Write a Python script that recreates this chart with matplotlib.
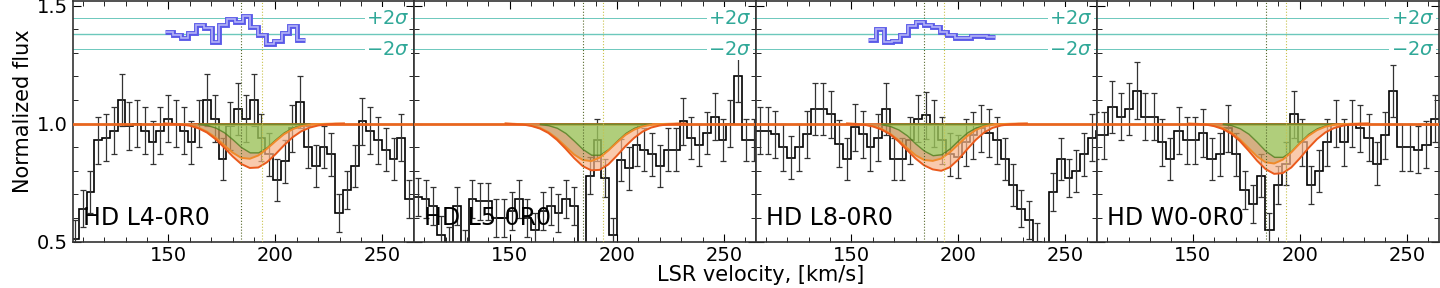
import numpy as np
import matplotlib.pyplot as plt
from matplotlib.ticker import MultipleLocator

# ---- data ----
labels = ['HD L4-0R0', 'HD L5-0R0', 'HD L8-0R0', 'HD W0-0R0']
bin_width = [3.63, 3.65, 3.70, 3.86]
bin_start = [104.5, 105.15, 105.3, 102.8]   # left edge of first bin, km/s

flux_l4 = [0.51, 0.64, 0.71, 0.93, 0.94, 0.97, 1.10, 0.99, 1.00, 0.97, 0.92,
           0.97, 1.02, 1.00, 0.97, 0.92, 1.00, 1.10, 1.02, 0.85, 0.99, 1.06,
           1.02, 1.10, 0.94, 0.87, 0.76, 0.84, 0.98, 1.09, 0.90, 0.82, 0.90,
           0.87, 0.62, 0.72, 0.82, 1.01, 0.97, 0.93, 0.89, 0.85, 0.94, 0.68]
err_l4 = [0.08, 0.08, 0.09, 0.10, 0.10, 0.10, 0.11, 0.10, 0.10, 0.10, 0.09,
          0.10, 0.10, 0.10, 0.10, 0.09, 0.10, 0.11, 0.10, 0.09, 0.10, 0.11,
          0.10, 0.11, 0.10, 0.09, 0.09, 0.09, 0.10, 0.11, 0.09, 0.09, 0.09,
          0.09, 0.08, 0.08, 0.09, 0.10, 0.10, 0.10, 0.09, 0.09, 0.10, 0.08]

flux_l5 = [0.69, 0.68, 0.65, 0.53, 0.49, 0.65, 0.48, 0.68, 0.67, 0.67, 0.60,
           0.60, 0.63, 0.68, 0.60, 0.55, 0.63, 0.65, 0.62, 0.68, 0.65, 0.30,
           0.78, 0.93, 0.77, 0.53, 0.845, 0.81, 0.91, 0.89, 0.87, 0.82, 0.89,
           0.89, 1.01, 0.94, 0.91, 0.96, 1.03, 0.93, 1.00, 1.20, 0.93, 0.93]
err_l5 = [0.08, 0.08, 0.08, 0.08, 0.07, 0.08, 0.07, 0.08, 0.08, 0.08, 0.08,
          0.08, 0.08, 0.08, 0.08, 0.07, 0.08, 0.08, 0.08, 0.08, 0.08, 0.07,
          0.08, 0.09, 0.08, 0.07, 0.09, 0.09, 0.09, 0.09, 0.09, 0.09, 0.09,
          0.09, 0.10, 0.09, 0.09, 0.09, 0.10, 0.09, 0.10, 0.11, 0.09, 0.09]

flux_l8 = [0.97, 0.97, 0.955, 0.90, 0.856, 0.90, 0.955, 1.06, 1.06, 1.04, 0.915,
           0.85, 0.985, 0.955, 0.90, 0.94, 1.06, 0.85, 0.85, 0.93, 1.02, 1.035,
           1.00, 0.93, 0.87, 0.86, 0.92, 0.95, 0.98, 0.96, 0.93, 0.85, 0.74,
           0.64, 0.59, 0.50, 0.40, 0.71, 0.85, 0.77, 0.80, 0.87, 0.94, 0.97]
err_l8 = [0.10, 0.10, 0.10, 0.10, 0.09, 0.10, 0.10, 0.11, 0.11, 0.10, 0.10,
          0.09, 0.10, 0.10, 0.10, 0.10, 0.11, 0.09, 0.09, 0.10, 0.10, 0.10,
          0.10, 0.10, 0.09, 0.09, 0.10, 0.10, 0.10, 0.10, 0.10, 0.09, 0.09,
          0.08, 0.08, 0.08, 0.07, 0.08, 0.09, 0.08, 0.09, 0.09, 0.10, 0.10]

flux_w0 = [0.95, 0.95, 1.07, 1.03, 1.06, 1.14, 1.03, 1.03, 0.92, 0.85, 0.97,
           0.93, 0.93, 0.96, 0.85, 0.87, 0.98, 0.87, 0.72, 0.66, 0.78, 0.55,
           0.74, 0.83, 1.04, 0.92, 0.74, 0.80, 0.92, 1.00, 0.92, 1.00, 0.98,
           0.94, 0.83, 0.95, 1.14, 0.90, 0.90, 0.89, 0.91, 1.02]
err_w0 = [0.10, 0.10, 0.11, 0.10, 0.11, 0.12, 0.10, 0.10, 0.10, 0.09, 0.10,
          0.10, 0.10, 0.10, 0.09, 0.09, 0.10, 0.09, 0.08, 0.08, 0.09, 0.07,
          0.08, 0.09, 0.10, 0.10, 0.08, 0.09, 0.10, 0.10, 0.10, 0.10, 0.10,
          0.10, 0.09, 0.10, 0.11, 0.10, 0.10, 0.10, 0.10, 0.10]

# residual trace shown above the spectra (panels 1 and 3 only)
res_start = [148.4, None, 157.9, None]
res_l4 = [1.386, 1.376, 1.362, 1.382, 1.417, 1.403, 1.345, 1.417, 1.443,
          1.431, 1.455, 1.407, 1.375, 1.335, 1.351, 1.382, 1.414, 1.354]
res_l8 = [1.356, 1.399, 1.347, 1.350, 1.376, 1.415, 1.429, 1.418, 1.407,
          1.390, 1.376, 1.364, 1.362, 1.369, 1.370, 1.366]

# absorption model curves
model_v = [148, 152, 156, 160, 164, 168, 172, 176, 180, 184, 188,
           192, 196, 200, 204, 208, 212, 216, 220, 224, 228, 232]
green_l4 = [1.0, 1.0, 1.0, 0.9995, 0.998, 0.994, 0.983, 0.963, 0.933, 0.900, 0.878,
            0.878, 0.900, 0.933, 0.963, 0.983, 0.994, 0.998, 0.9995, 1.0, 1.0, 1.0]
mid_l4 = [1.000, 0.999, 0.997, 0.993, 0.983, 0.966, 0.941, 0.909, 0.877, 0.855, 0.851,
          0.865, 0.893, 0.925, 0.955, 0.976, 0.989, 0.995, 0.998, 0.999, 1.000, 1.000]
low_l4 = [0.9995, 0.9986, 0.996, 0.991, 0.980, 0.962, 0.934, 0.899, 0.861, 0.829, 0.812,
          0.814, 0.836, 0.870, 0.908, 0.942, 0.967, 0.983, 0.992, 0.997, 0.999, 1.000]

green_l5 = [1.0, 1.0, 1.0, 0.9995, 0.998, 0.993, 0.982, 0.960, 0.927, 0.892, 0.868,
            0.868, 0.892, 0.927, 0.960, 0.982, 0.993, 0.998, 0.9995, 1.0, 1.0, 1.0]
mid_l5 = [1.000, 0.999, 0.997, 0.992, 0.982, 0.964, 0.937, 0.903, 0.869, 0.846, 0.841,
          0.856, 0.886, 0.920, 0.952, 0.974, 0.988, 0.995, 0.998, 0.999, 1.000, 1.000]
low_l5 = [1.000, 0.998, 0.996, 0.990, 0.979, 0.960, 0.931, 0.894, 0.854, 0.820, 0.802,
          0.804, 0.827, 0.864, 0.904, 0.939, 0.966, 0.983, 0.992, 0.997, 0.999, 1.000]

green_l8 = [1.0, 1.0, 1.0, 0.9995, 0.997, 0.990, 0.975, 0.950, 0.915, 0.885, 0.866,
            0.870, 0.895, 0.930, 0.962, 0.983, 0.994, 0.998, 0.9995, 1.0, 1.0, 1.0]
mid_l8 = [1.000, 0.999, 0.996, 0.990, 0.978, 0.958, 0.930, 0.897, 0.866, 0.846, 0.842,
          0.852, 0.878, 0.912, 0.946, 0.972, 0.988, 0.995, 0.998, 0.999, 1.000, 1.000]
low_l8 = [1.000, 0.998, 0.995, 0.988, 0.975, 0.955, 0.925, 0.888, 0.852, 0.823, 0.806,
          0.800, 0.815, 0.848, 0.890, 0.930, 0.962, 0.982, 0.992, 0.997, 0.999, 1.000]

green_w0 = [1.0, 1.0, 1.0, 0.9995, 0.998, 0.993, 0.980, 0.957, 0.922, 0.884, 0.859,
            0.859, 0.884, 0.922, 0.957, 0.980, 0.993, 0.998, 0.9995, 1.0, 1.0, 1.0]
mid_w0 = [1.000, 0.999, 0.997, 0.992, 0.981, 0.962, 0.933, 0.897, 0.861, 0.836, 0.831,
          0.847, 0.878, 0.916, 0.948, 0.972, 0.987, 0.995, 0.998, 0.999, 1.000, 1.000]
low_w0 = [0.999, 0.998, 0.996, 0.989, 0.977, 0.957, 0.926, 0.886, 0.843, 0.807, 0.787,
          0.790, 0.814, 0.853, 0.896, 0.934, 0.963, 0.981, 0.991, 0.997, 0.999, 1.000]

comp_v = [184.0, 193.5]          # component velocities (dotted lines)
sig_center, sig_plus, sig_minus = 1.379, 1.446, 1.314

fluxes = [flux_l4, flux_l5, flux_l8, flux_w0]
errs = [err_l4, err_l5, err_l8, err_w0]
residuals = [res_l4, None, res_l8, None]
greens = [green_l4, green_l5, green_l8, green_w0]
mids = [mid_l4, mid_l5, mid_l8, mid_w0]
lows = [low_l4, low_l5, low_l8, low_w0]

# ---- figure ----
fig, axes = plt.subplots(1, 4, figsize=(14.4, 2.88), dpi=100, sharey=True)
fig.subplots_adjust(left=0.0505, right=0.999, bottom=0.161, top=0.998, wspace=0)

teal_line = '#6cc8bc'
teal_text = '#30a898'
mv = np.array(model_v)

for i, ax in enumerate(axes):
    f = np.array(fluxes[i])
    edges = bin_start[i] + bin_width[i] * np.arange(len(f) + 1)
    centers = edges[:-1] + bin_width[i] / 2

    # spectrum
    ax.stairs(f, edges, baseline=None, color='black', lw=1.2, zorder=2)
    ax.errorbar(centers, f, yerr=errs[i], fmt='none', ecolor='#333333',
                elinewidth=0.9, capsize=2.2, capthick=0.9, zorder=2)

    # continuum
    ax.axhline(1.0, color='#e8661e', lw=2.0, zorder=3)

    # model fills
    g = np.array(greens[i])
    m = np.array(mids[i])
    lo = np.array(lows[i])
    ax.fill_between(mv, m, lo, facecolor='#f7b48a', alpha=0.7, lw=0, zorder=4)
    ax.fill_between(mv, g, m, facecolor='#c8955a', alpha=0.75, lw=0, zorder=4)
    ax.fill_between(mv, g, 1.0, where=g < 0.999, facecolor='#9cc25a', alpha=0.8,
                    edgecolor='#4f7d1e', lw=1.0, zorder=5)
    ax.plot(mv, m, color='#ef8a2a', lw=1.4, zorder=5)
    ax.plot(mv, lo, color='#ea5a1c', lw=1.4, zorder=5)

    # component markers
    ax.axvline(comp_v[0], color='#56682a', lw=0.8, ls=':', zorder=6)
    ax.axvline(comp_v[1], color='#c9c24a', lw=0.8, ls=':', zorder=6)

    # residual significance band
    ax.axhline(sig_center, color=teal_line, lw=1.0, zorder=1)
    ax.axhline(sig_plus, color=teal_line, lw=0.7, zorder=1)
    ax.axhline(sig_minus, color=teal_line, lw=0.7, zorder=1)
    ax.text(0.988, sig_plus, '$+2\\sigma$', color=teal_text, fontsize=14,
            ha='right', va='center', transform=ax.get_yaxis_transform(),
            bbox=dict(facecolor='white', edgecolor='none', pad=1), zorder=7)
    ax.text(0.988, sig_minus, '$-2\\sigma$', color=teal_text, fontsize=14,
            ha='right', va='center', transform=ax.get_yaxis_transform(),
            bbox=dict(facecolor='white', edgecolor='none', pad=1), zorder=7)

    if residuals[i] is not None:
        r = np.array(residuals[i])
        r_edges = res_start[i] + bin_width[i] * np.arange(len(r) + 1)
        ax.stairs(r, r_edges, baseline=None, color='#5a5ae8', lw=3.5, zorder=6)
        ax.stairs(r, r_edges, baseline=None, color='#b4b4f6', lw=1.2, zorder=6)

    ax.text(0.03, 0.05, labels[i], transform=ax.transAxes, fontsize=17,
            ha='left', va='bottom', zorder=8)

    ax.set_xlim(105.3, 264.8)
    ax.set_ylim(0.5, 1.521)
    ax.xaxis.set_major_locator(MultipleLocator(50))
    ax.xaxis.set_minor_locator(MultipleLocator(10))
    ax.yaxis.set_major_locator(MultipleLocator(0.5))
    ax.yaxis.set_minor_locator(MultipleLocator(0.1))
    ax.tick_params(which='both', direction='in', top=True, right=True, labelsize=14)
    ax.tick_params(which='major', length=6)
    ax.tick_params(which='minor', length=3.5)
    for s in ax.spines.values():
        s.set_color('#333333')
        s.set_linewidth(1.2)

fig.text(0.016, 0.615, 'Normalized flux', rotation=90, ha='center', va='center', fontsize=15)
fig.text(0.528, 0.012, 'LSR velocity, [km/s]', ha='center', va='bottom', fontsize=15)

fig.savefig('out.png', dpi=100)
